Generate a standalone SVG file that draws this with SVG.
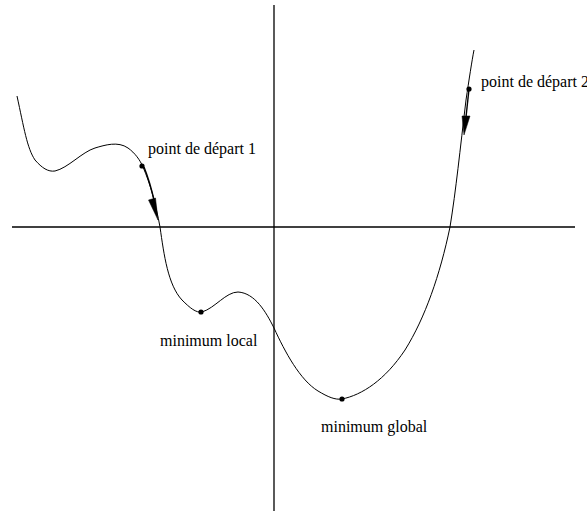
<svg xmlns="http://www.w3.org/2000/svg" width="587" height="518" viewBox="0 0 587 518">
<style>
.axis{stroke:#000;stroke-width:1.3;fill:none}
.curve{stroke:#000;stroke-width:1;fill:none}
.arr{stroke:#000;stroke-width:1.4;fill:none}
.head{fill:#000;stroke:#000;stroke-width:0.5}
.dot{fill:#000}
text{font-family:"Liberation Serif","Times New Roman",serif;font-size:16px;fill:#000}
</style>
<rect width="587" height="518" fill="#fff"/>
<g id="axes">
<path class="axis" d="M12,227 H575"/>
<path class="axis" d="M274,5 V511"/>
</g>
<g id="curve">
<path class="curve" d="M17,96 C24,128 27,148 35,160 C42,168 48,172 55,171 C68,168 82,152 95,148 C105,145 118,141 128,148 C135,153 140,160 143,167 C150,183 156,205 160,227 C164,255 168,285 182,300 C190,308 196,313 202,312 C215,308 226,292 238,292 C255,293 266,312 274,328 C285,352 300,380 318,391 C328,397 335,400 342,399 C362,395 385,380 405,350 C425,318 440,275 450,227 C456,190 460,150 466,100 C469,80 472,60 474,50"/>
</g>
<g id="connectors">
<path class="arr" d="M144,167 Q150,182 154,200"/>
<polygon class="head" points="158,220 155.5,198 148.5,200"/>
<path class="arr" d="M469,89 L466,117"/>
<polygon class="head" points="464,135 470,116 462,116"/>
</g>
<g id="start1">
<circle class="dot" cx="142" cy="166" r="2.6"/>
<text x="148" y="154">point de départ 1</text>
</g>
<g id="start2">
<circle class="dot" cx="469" cy="89" r="2.6"/>
<text x="481" y="87">point de départ 2</text>
</g>
<g id="localmin">
<circle class="dot" cx="201" cy="312" r="2.6"/>
<text x="160" y="346">minimum local</text>
</g>
<g id="globalmin">
<circle class="dot" cx="342" cy="399" r="2.6"/>
<text x="321" y="432">minimum global</text>
</g>
</svg>
